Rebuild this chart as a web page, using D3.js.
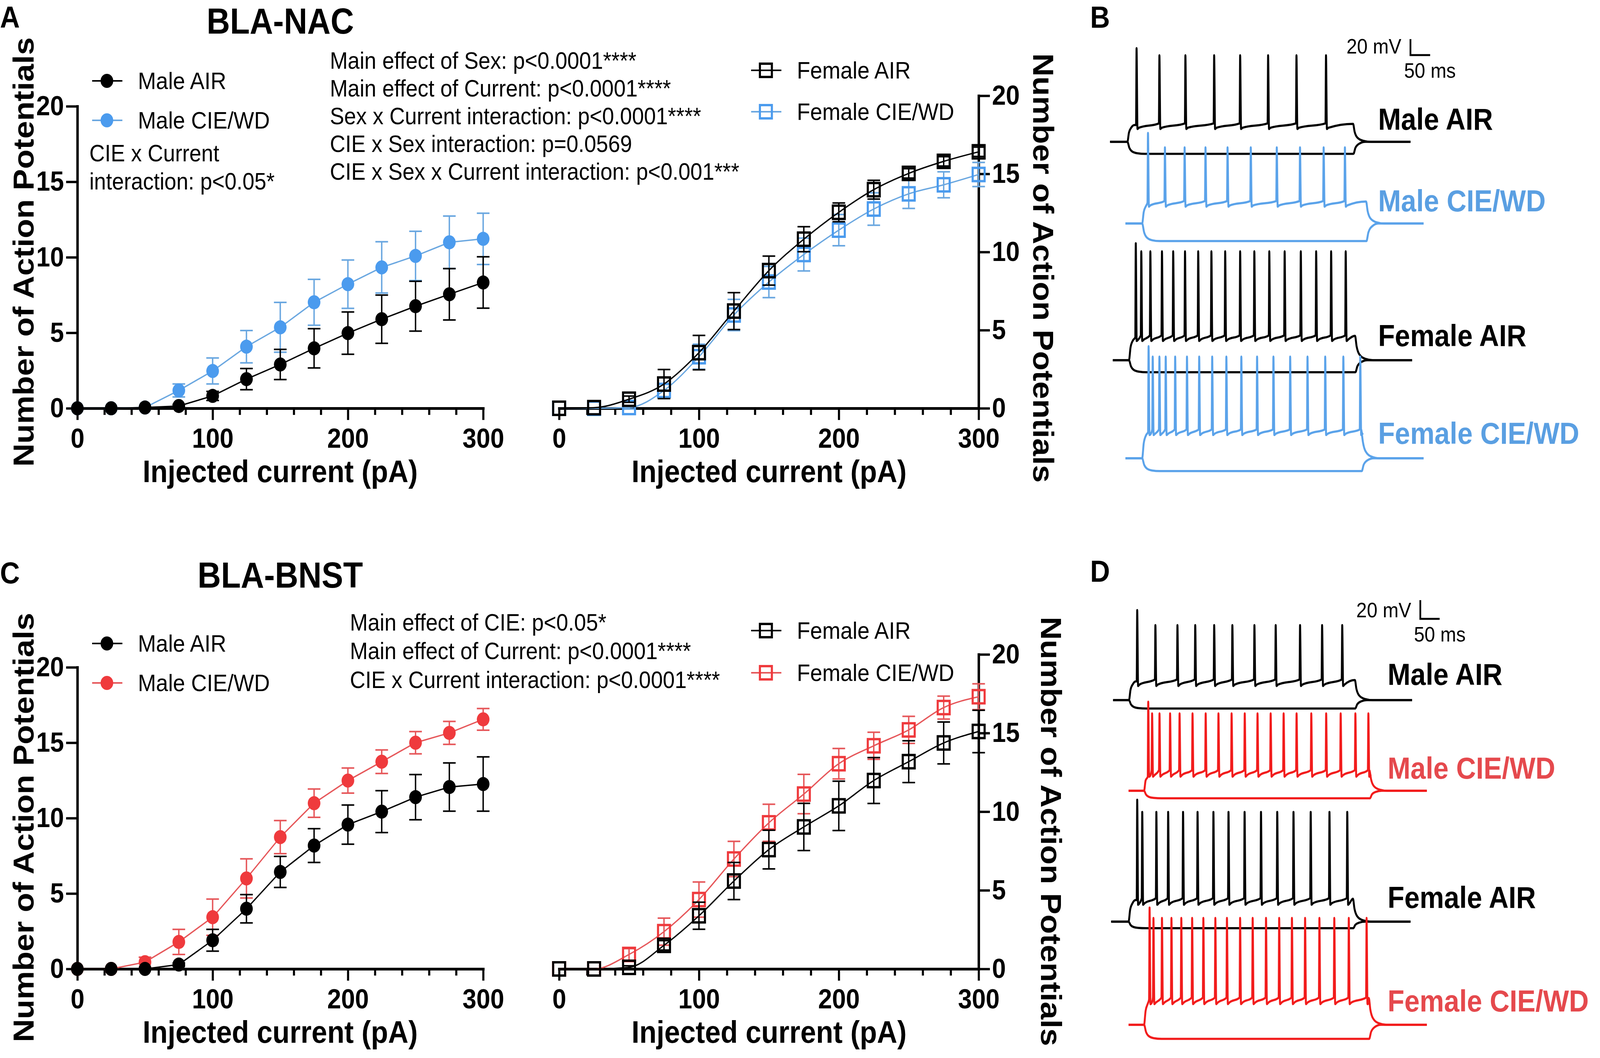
<!DOCTYPE html>
<html>
<head>
<meta charset="utf-8">
<script src="https://cdn.jsdelivr.net/npm/d3@7"></script>
<style>
body { margin: 0; background: #fff; overflow: hidden; }
svg { display: block; }
text { font-family: "Liberation Sans", Arial, sans-serif; }
</style>
</head>
<body>
<script>
// ---- data ----
var currents = [0, 25, 50, 75, 100, 125, 150, 175, 200, 225, 250, 275, 300];
var xTicks = [0, 100, 200, 300];
var yTicks = [0, 5, 10, 15, 20];

// BLA-NAC
var nacMaleAir      = [0, 0, 0.05, 0.15, 0.82, 1.93, 2.9, 3.97, 4.98, 5.9, 6.76, 7.55, 8.33];
var nacMaleAirSem   = [0, 0, 0, 0.1, 0.3, 0.7, 1.0, 1.3, 1.4, 1.6, 1.65, 1.7, 1.7];
var nacMaleCie      = [0, 0, 0.05, 1.18, 2.47, 4.08, 5.36, 7.02, 8.22, 9.33, 10.09, 10.99, 11.22];
var nacMaleCieSem   = [0, 0, 0, 0.43, 0.86, 1.07, 1.65, 1.52, 1.6, 1.7, 1.63, 1.74, 1.7];
var nacFemaleAir    = [0, 0.04, 0.58, 1.55, 3.56, 6.22, 8.81, 10.82, 12.54, 13.99, 15.03, 15.8, 16.41];
var nacFemaleAirSem = [0, 0, 0.2, 0.93, 1.1, 1.18, 0.93, 0.8, 0.6, 0.6, 0.3, 0.3, 0.3];
var nacFemaleCie    = [0, 0, 0.05, 1.14, 3.3, 5.97, 8.08, 9.84, 11.4, 12.75, 13.72, 14.3, 14.96];
var nacFemaleCieSem = [0, 0, 0.1, 0.4, 0.8, 1.0, 1.0, 1.05, 1.0, 1.04, 0.93, 0.83, 0.77];

// BLA-BNST
var bnstMaleAir      = [0, 0, 0, 0.29, 1.9, 3.99, 6.43, 8.18, 9.57, 10.43, 11.39, 12.06, 12.26];
var bnstMaleAirSem   = [0, 0, 0, 0.1, 0.72, 0.94, 1.03, 1.12, 1.3, 1.39, 1.5, 1.6, 1.8];
var bnstMaleCie      = [0, 0, 0.45, 1.79, 3.43, 6.0, 8.74, 10.99, 12.49, 13.74, 15.0, 15.65, 16.55];
var bnstMaleCieSem   = [0, 0, 0.33, 0.83, 1.2, 1.3, 1.1, 0.94, 0.83, 0.78, 0.74, 0.76, 0.72];
var bnstFemaleAir    = [0, 0, 0.1, 1.5, 3.38, 5.59, 7.59, 9.03, 10.37, 11.98, 13.18, 14.37, 15.1];
var bnstFemaleAirSem = [0, 0, 0.1, 0.3, 0.86, 1.18, 1.23, 1.5, 1.57, 1.46, 1.33, 1.33, 1.35];
var bnstFemaleCie    = [0, 0, 0.92, 2.37, 4.41, 6.99, 9.29, 11.12, 13.05, 14.19, 15.2, 16.62, 17.31];
var bnstFemaleCieSem = [0, 0, 0.37, 0.86, 1.12, 1.12, 1.18, 1.25, 0.97, 0.86, 0.86, 0.73, 0.82];

var nacStats = [
  "Main effect of Sex: p<0.0001****",
  "Main effect of Current: p<0.0001****",
  "Sex x Current interaction: p<0.0001****",
  "CIE x Sex interaction: p=0.0569",
  "CIE x Sex x Current interaction: p<0.001***"
];
var nacMaleNote = ["CIE x Current", "interaction: p<0.05*"];
var bnstStats = [
  "Main effect of CIE: p<0.05*",
  "Main effect of Current: p<0.0001****",
  "CIE x Current interaction: p<0.0001****"
];

// example traces: times in ms, voltages in mV relative to resting level
var traceLabels = ["Male AIR", "Male CIE/WD", "Female AIR", "Female CIE/WD"];
var nacTraceSpikes = [
  [73, 131, 197, 270, 336, 407, 479, 554],
  [102, 145, 195, 248, 304, 363, 429, 488, 548, 602],
  [71, 85, 108, 137.5, 166, 196, 229.5, 263, 298, 336, 372, 410, 449, 490, 529, 567, 604],
  [103.5, 114, 131, 147, 171, 201, 232, 265, 301, 339, 379, 420.5, 463, 507, 552, 598, 641]
];
// [start, step on, step off, end, plateau mV, hyperpol mV, first peak mV, peak mV]
var nacTraceLevels = [
  [6, 50, 624, 769, 21, -15, 117, 108],
  [45, 87.5, 657, 802, 26, -22, 113, 95],
  [13, 54, 629, 773, 29, -15, 146, 136],
  [45, 87.5, 645, 802, 34, -16, 140, 127]
];
var bnstTraceSpikes = [
  [76, 123, 180, 226, 275, 322, 379, 434, 497, 554, 606],
  [104.5, 114.5, 133.6, 161, 185.5, 219, 253, 286, 320, 354, 387, 421, 454.5, 488, 526, 564.5, 602, 640, 673.6],
  [76, 89, 125.5, 156, 194.5, 232, 273, 312, 353.6, 396, 438, 480, 524.5, 573, 619],
  [108, 118, 140, 164.5, 190, 218, 247, 278, 308, 342, 374.5, 409, 443, 476, 510, 547, 585.5, 623, 669]
];
var bnstTraceLevels = [
  [14, 55, 640, 787, 20, -9, 96, 80],
  [54, 94, 678, 825, 20, -8, 95, 82.5],
  [9, 54, 635, 783, 23, -7, 130, 117],
  [54, 94, 676, 825, 27, -15, 125, 114]
];

// ---- styles ----
var BLUE_MARK = "#4b9bee", BLUE_LINE = "#6aa7e0", BLUE_TRACE = "#5ba3ea", BLUE_TEXT = "#5a9fe2";
var RED_MARK = "#ef3a3d", RED_LINE = "#e6575a", RED_TRACE = "#f21c1c", RED_TEXT = "#e5494d";

// the figure is laid out on a 4550 x 2708 grid and stretched to whatever window we get
var vw = window.innerWidth || 4550, vh = window.innerHeight || 2708;
var svg = d3.select("body").append("svg")
    .attr("width", vw)
    .attr("height", vh)
    .attr("viewBox", "0 0 4550 2708")
    .attr("preserveAspectRatio", "none");

svg.append("rect").attr("width", 4550).attr("height", 2708).attr("fill", "#fff");

function txt(x, y, s, size, weight, anchor, color) {
  return svg.append("text")
    .attr("x", x).attr("y", y)
    .attr("font-size", size)
    .attr("font-weight", weight || "normal")
    .attr("text-anchor", anchor || "start")
    .attr("fill", color || "#000")
    .text(s);
}

function marker(g, shape, cx, cy, color) {
  if (shape == "circle") {
    g.append("circle").attr("cx", cx).attr("cy", cy).attr("r", 18).attr("fill", color);
  } else {
    g.append("rect").attr("x", cx - 17).attr("y", cy - 17)
      .attr("width", 34).attr("height", 34)
      .attr("fill", "none").attr("stroke", color).attr("stroke-width", 6);
  }
}

function drawPlot(cfg) {
  var x = d3.scaleLinear().domain([0, 300]).range([cfg.left, cfg.right]);
  var y = d3.scaleLinear().domain([0, 20]).range([cfg.bottom, cfg.top]);
  var g = svg.append("g");

  // minor x ticks every 20 pA
  g.append("g")
    .attr("transform", "translate(0," + cfg.bottom + ")")
    .call(d3.axisBottom(x)
      .tickValues(d3.range(20, 300, 20).filter(function(v) { return v % 100 != 0; }))
      .tickSize(17).tickSizeOuter(0).tickFormat(""))
    .call(function(a) { a.select(".domain").remove(); a.selectAll("line").attr("stroke-width", 6); });

  var xa = g.append("g")
    .attr("transform", "translate(0," + cfg.bottom + ")")
    .call(d3.axisBottom(x).tickValues(xTicks).tickSize(30).tickSizeOuter(0).tickPadding(21));

  var ya;
  if (cfg.side == "left") {
    ya = g.append("g")
      .attr("transform", "translate(" + cfg.left + ",0)")
      .call(d3.axisLeft(y).tickValues(yTicks).tickSize(32).tickSizeOuter(0).tickPadding(6));
  } else {
    ya = g.append("g")
      .attr("transform", "translate(" + cfg.right + ",0)")
      .call(d3.axisRight(y).tickValues(yTicks).tickSize(32).tickSizeOuter(0).tickPadding(6));
  }
  [xa, ya].forEach(function(a) {
    a.select(".domain").attr("stroke-width", 7).attr("stroke-linecap", "square");
    a.selectAll(".tick line").attr("stroke-width", 6);
    a.selectAll("text")
      .attr("font-family", "'Liberation Sans', Arial, sans-serif")
      .attr("font-size", 71).attr("font-weight", "bold").attr("fill", "#000");
  });

  var line = d3.line()
    .x(function(d) { return x(d.c); })
    .y(function(d) { return y(d.m); })
    .curve(cfg.side == "left" ? d3.curveLinear : d3.curveMonotoneX);

  cfg.series.forEach(function(s) {
    var pts = currents.map(function(c, i) { return {c: c, m: s.mean[i], e: s.sem[i]}; });
    var sg = g.append("g");
    sg.append("path").datum(pts)
      .attr("fill", "none").attr("stroke", s.line).attr("stroke-width", 3.5)
      .attr("d", line);
    var eb = pts.filter(function(d) { return d.e > 0; });
    sg.selectAll(null).data(eb).enter().append("line")
      .attr("x1", function(d) { return x(d.c); }).attr("x2", function(d) { return x(d.c); })
      .attr("y1", function(d) { return y(d.m - d.e); }).attr("y2", function(d) { return y(d.m + d.e); })
      .attr("stroke", s.line).attr("stroke-width", 4);
    [-1, 1].forEach(function(k) {
      sg.selectAll(null).data(eb).enter().append("line")
        .attr("x1", function(d) { return x(d.c) - 18; }).attr("x2", function(d) { return x(d.c) + 18; })
        .attr("y1", function(d) { return y(d.m + k * d.e); }).attr("y2", function(d) { return y(d.m + k * d.e); })
        .attr("stroke", s.line).attr("stroke-width", 4);
    });
    pts.forEach(function(d) { marker(sg, s.shape, x(d.c), y(d.m), s.mark); });
  });

  // legend
  cfg.legend.forEach(function(s, i) {
    var ly = cfg.legendY[i];
    g.append("line")
      .attr("x1", cfg.legendX - 42).attr("x2", cfg.legendX + 44)
      .attr("y1", ly).attr("y2", ly)
      .attr("stroke", s.line).attr("stroke-width", 4);
    marker(g, s.shape, cfg.legendX, ly, s.mark);
    txt(cfg.legendX + 88, ly + 21, s.name, 62);
  });
}

var maleAirN   = {name: "Male AIR", shape: "circle", mark: "#000", line: "#000"};
var femaleAirN = {name: "Female AIR", shape: "square", mark: "#000", line: "#000"};

function series(base, mean, sem) {
  return Object.assign({}, base, {mean: mean, sem: sem});
}

// ---- panel A ----
var aMaleCie = series({name: "Male CIE/WD", shape: "circle", mark: BLUE_MARK, line: BLUE_LINE}, nacMaleCie, nacMaleCieSem);
var aMaleAir = series(maleAirN, nacMaleAir, nacMaleAirSem);
var aFemCie = series({name: "Female CIE/WD", shape: "square", mark: BLUE_MARK, line: BLUE_LINE}, nacFemaleCie, nacFemaleCieSem);
var aFemAir = series(femaleAirN, nacFemaleAir, nacFemaleAirSem);

drawPlot({left: 220, right: 1374, top: 272, bottom: 1045, side: "left",
  series: [aMaleCie, aMaleAir], legend: [aMaleAir, aMaleCie], legendX: 304, legendY: [207, 308]});
drawPlot({left: 1590, right: 2783, top: 245, bottom: 1045, side: "right",
  series: [aFemCie, aFemAir], legend: [aFemAir, aFemCie], legendX: 2178, legendY: [180, 286]});

// ---- panel C ----
var cMaleCie = series({name: "Male CIE/WD", shape: "circle", mark: RED_MARK, line: RED_LINE}, bnstMaleCie, bnstMaleCieSem);
var cMaleAir = series(maleAirN, bnstMaleAir, bnstMaleAirSem);
var cFemCie = series({name: "Female CIE/WD", shape: "square", mark: RED_MARK, line: RED_LINE}, bnstFemaleCie, bnstFemaleCieSem);
var cFemAir = series(femaleAirN, bnstFemaleAir, bnstFemaleAirSem);

drawPlot({left: 220, right: 1374, top: 1708, bottom: 2480, side: "left",
  series: [cMaleCie, cMaleAir], legend: [cMaleAir, cMaleCie], legendX: 304, legendY: [1647, 1748]});
drawPlot({left: 1590, right: 2783, top: 1675, bottom: 2480, side: "right",
  series: [cFemCie, cFemAir], legend: [cFemAir, cFemCie], legendX: 2178, legendY: [1614, 1722]});

// ---- texts for the plots ----
txt(0, 71, "A", 78, "bold");
txt(0, 1493, "C", 78, "bold");
txt(3100, 71, "B", 78, "bold");
txt(3100, 1489, "D", 78, "bold");
txt(797, 86, "BLA-NAC", 92, "bold", "middle");
txt(797, 1504, "BLA-BNST", 92, "bold", "middle");

[[797, 1234], [2187, 1234], [797, 2669], [2187, 2669]].forEach(function(p) {
  txt(p[0], p[1], "Injected current (pA)", 80, "bold", "middle");
});

[[96, 645, -90], [2938, 686, 90], [96, 2118, -90], [2960, 2128, 90]].forEach(function(p) {
  svg.append("text")
    .attr("transform", "translate(" + p[0] + "," + p[1] + ") rotate(" + p[2] + ")")
    .attr("font-size", 82).attr("font-weight", "bold").attr("text-anchor", "middle")
    .text("Number of Action Potentials");
});

nacStats.forEach(function(s, i) { txt(938, 176 + i * 71, s, 61); });
nacMaleNote.forEach(function(s, i) { txt(254, 413 + i * 72, s, 61); });
bnstStats.forEach(function(s, i) { txt(995, 1614 + i * 73.5, s, 61); });

// ---- example traces (panels B and D) ----
function tracePoints(spikes, lv) {
  var start = lv[0], on = lv[1], off = lv[2], end = lv[3], dep = lv[4], hyp = lv[5];
  var rise = [[on, 0], [on + 4, dep * 0.55], [on + 10, dep * 0.85], [on + 18, dep]];
  var pts = [[start, 0]];
  rise.forEach(function(p) { if (p[0] < spikes[0] - 1.2) pts.push(p); });
  spikes.forEach(function(t, i) {
    var pre = i == 0 ? Math.min(dep, pts[pts.length - 1][1] + 4) : dep + 2;
    pts.push([t - 1, pre]);
    pts.push([t + 0.3, i == 0 ? lv[6] : lv[7]]);
    pts.push([t + 2.6, dep - 5]);
    pts.push([t + 6, dep - 3.5]);
  });
  pts.push([off - 1, dep + 1.5]);
  pts.push([off + 3, dep * 0.6]);
  pts.push([off + 10, dep * 0.25]);
  pts.push([off + 25, dep * 0.06]);
  pts.push([off + 45, 0]);
  pts.push([end, 0]);
  var hpts = [[start, 0], [on, 0], [on + 5, hyp * 0.5], [on + 12, hyp * 0.8], [on + 25, hyp * 0.95],
              [on + 45, hyp], [off, hyp], [off + 5, hyp * 0.5], [off + 15, hyp * 0.15], [off + 30, 0], [end, 0]];
  return [hpts, pts];
}

function drawTraces(cfg) {
  var sx = d3.scaleLinear().domain([0, 100]).range([3150, 3150 + cfg.pxPerMs * 100]);
  cfg.spikes.forEach(function(spk, i) {
    var sy = d3.scaleLinear().domain([0, 20]).range([cfg.base[i], cfg.base[i] - cfg.pxPer20mV]);
    var line = d3.line()
      .x(function(d) { return sx(d[0]); })
      .y(function(d) { return sy(d[1]); })
      .curve(d3.curveMonotoneX);
    var color = i % 2 == 0 ? "#000" : cfg.color;
    tracePoints(spk, cfg.levels[i]).forEach(function(p) {
      svg.append("path").datum(p)
        .attr("fill", "none").attr("stroke", color)
        .attr("stroke-width", 5.5).attr("stroke-linejoin", "round")
        .attr("d", line);
    });
    txt(cfg.labelX, cfg.labelY[i], traceLabels[i], 78, "bold", "start", i % 2 == 0 ? "#000" : cfg.textColor);
  });
  // scale bar: 20 mV, 50 ms
  var bx = cfg.bar[0], by = cfg.bar[1];
  svg.append("path")
    .attr("d", "M" + bx + "," + (by - cfg.pxPer20mV) + "V" + by + "H" + (bx + cfg.pxPerMs * 50))
    .attr("fill", "none").attr("stroke", "#000").attr("stroke-width", 5);
  txt(bx - 26, by - 4, "20 mV", 54, "normal", "end");
  txt(bx - 18, by + 58, "50 ms", 54);
}

drawTraces({spikes: nacTraceSpikes, levels: nacTraceLevels, base: [363, 572, 922, 1173],
  pxPerMs: 1.12, pxPer20mV: 41, color: BLUE_TRACE, textColor: BLUE_TEXT,
  labelX: 3919, labelY: [332, 541, 886, 1136], bar: [4011, 141]});
drawTraces({spikes: bnstTraceSpikes, levels: bnstTraceLevels, base: [1792, 2024, 2359, 2623],
  pxPerMs: 1.1, pxPer20mV: 48, color: RED_TRACE, textColor: RED_TEXT,
  labelX: 3946, labelY: [1753, 1993, 2324, 2589], bar: [4039, 1584]});
</script>
</body>
</html>
